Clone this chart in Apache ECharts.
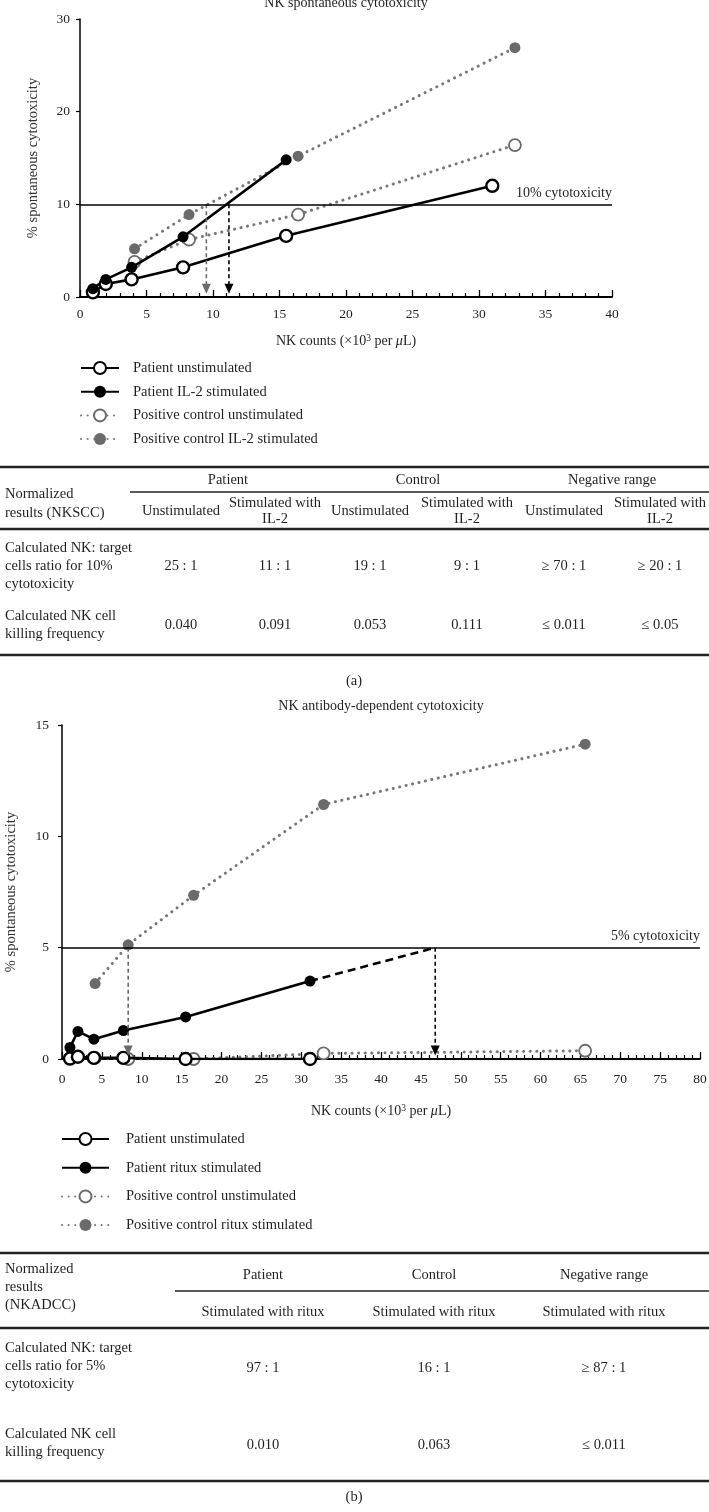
<!DOCTYPE html>
<html><head><meta charset="utf-8">
<script src="https://cdn.jsdelivr.net/npm/echarts@6/dist/echarts.min.js"></script>
<style>html,body{margin:0;padding:0;background:#fff}#c{width:709px;height:1512px}</style>
</head><body><div id="c"></div>
<script>
// ---------- Data: panel (a) NK spontaneous cytotoxicity ----------
const a_patientUnstim = [[0.97,0.5],[1.94,1.4],[3.88,1.9],[7.75,3.2],[15.5,6.6],[31,12.0]];
const a_patientIL2    = [[0.97,0.9],[1.94,1.9],[3.88,3.2],[7.75,6.5],[15.5,14.8]];
const a_controlUnstim = [[4.1,3.8],[8.2,6.2],[16.4,8.9],[32.7,16.4]];
const a_controlIL2    = [[4.1,5.2],[8.2,8.9],[16.4,15.2],[32.7,26.9]];
const a_threshold = 10;
const a_arrowGray  = [[9.5,10],[9.5,0.9]];
const a_arrowBlack = [[11.2,10],[11.2,0.9]];
const a_names = ['Patient unstimulated','Patient IL-2 stimulated','Positive control unstimulated','Positive control IL-2 stimulated'];

// ---------- Data: panel (b) NK antibody-dependent cytotoxicity ----------
const b_patientUnstim = [[1.0,0.02],[2.0,0.1],[4.0,0.05],[7.7,0.05],[15.5,0.0],[31.1,0.0]];
const b_patientRitux  = [[1.0,0.52],[2.0,1.24],[4.0,0.89],[7.7,1.28],[15.5,1.89],[31.1,3.5]];
const b_patientExtrap = [[31.1,3.5],[46.8,5.0]];
const b_controlUnstim = [[4.1,0.05],[8.3,0.0],[16.5,0.0],[32.8,0.25],[65.6,0.37]];
const b_controlRitux  = [[4.15,3.39],[8.3,5.13],[16.5,7.35],[32.8,11.43],[65.6,14.14]];
const b_threshold = 5;
const b_arrowGray  = [[8.3,5.0],[8.3,0.38]];
const b_arrowBlack = [[46.8,5.0],[46.8,0.38]];
const b_names = ['Patient unstimulated','Patient ritux stimulated','Positive control unstimulated','Positive control ritux stimulated'];

// ---------- Tables ----------
const tA_head = 'Normalized\nresults (NKSCC)';
const tA_groups = ['Patient','Control','Negative range'];
const tA_sub = ['Unstimulated','Stimulated with\nIL-2','Unstimulated','Stimulated with\nIL-2','Unstimulated','Stimulated with\nIL-2'];
const tA_rowLabels = ['Calculated NK: target\ncells ratio for 10%\ncytotoxicity','Calculated NK cell\nkilling frequency'];
const tA_ratio = ['25 : 1','11 : 1','19 : 1','9 : 1','\u2265 70 : 1','\u2265 20 : 1'];
const tA_freq  = ['0.040','0.091','0.053','0.111','\u2264 0.011','\u2264 0.05'];

const tB_head = 'Normalized\nresults\n(NKADCC)';
const tB_groups = ['Patient','Control','Negative range'];
const tB_sub = ['Stimulated with ritux','Stimulated with ritux','Stimulated with ritux'];
const tB_rowLabels = ['Calculated NK: target\ncells ratio for 5%\ncytotoxicity','Calculated NK cell\nkilling frequency'];
const tB_ratio = ['97 : 1','16 : 1','\u2265 87 : 1'];
const tB_freq  = ['0.010','0.063','\u2264 0.011'];

// ---------- Styles ----------
const FF = '"Liberation Serif","Times New Roman",serif';
const INK = '#231f20';
const GRAY = '#6a6a6a';
const DOT = '#777';

function xAxisCfg(gi, max, margin, gap){
  return {
    type:'value', gridIndex:gi, min:0, max:max, interval:5,
    name:'NK counts (\u00d710{sup|3} per {it|\u03bc}L)', nameLocation:'middle', nameGap:gap,
    nameTextStyle:{fontFamily:FF, fontSize:14, color:INK,
      rich:{sup:{fontFamily:FF,fontSize:9.5,color:INK,verticalAlign:'top',lineHeight:16},
            it:{fontFamily:FF,fontSize:14,fontStyle:'italic',color:INK}}},
    axisLine:{show:true, onZero:false, lineStyle:{color:'#000', width:2}},
    axisTick:{show:true, inside:true, length:7, lineStyle:{color:'#000', width:1.3}},
    minorTick:{show:true, splitNumber:5, length:4, lineStyle:{color:'#000', width:1.2}},
    axisLabel:{fontFamily:FF, fontSize:13.5, color:INK, margin:margin},
    splitLine:{show:false}, minorSplitLine:{show:false}
  };
}
function yAxisCfg(gi, max, interval, margin, gap){
  return {
    type:'value', gridIndex:gi, min:0, max:max, interval:interval,
    name:'% spontaneous cytotoxicity', nameLocation:'middle', nameGap:gap,
    nameTextStyle:{fontFamily:FF, fontSize:14.5, color:'#333'},
    axisLine:{show:true, lineStyle:{color:'#000', width:1.5}},
    axisTick:{show:true, inside:false, length:4, lineStyle:{color:'#000', width:1.2}},
    axisLabel:{fontFamily:FF, fontSize:13.5, color:INK, margin:margin},
    splitLine:{show:false}
  };
}
function seriesCfg(name, gi, data, kind, z, extra){
  const solid = kind === 'patientOpen' || kind === 'patientFilled';
  const open = kind === 'patientOpen' || kind === 'controlOpen';
  const col = solid ? '#000' : GRAY;
  const s = {
    type:'line', name:name, xAxisIndex:gi, yAxisIndex:gi, data:data, z:z,
    symbol:'circle', symbolSize: open ? 12 : 11, showSymbol:true, showAllSymbol:true,
    lineStyle: solid ? {color:'#000', width:2.6, type:'solid'} : {color:DOT, width:3, type:[0.1,6.5], cap:'round'},
    itemStyle: open ? {color:'#fff', borderColor:col, borderWidth: solid ? 2.4 : 1.8} : {color:col, borderColor:col, borderWidth:0},
    emphasis:{disabled:true}, silent:true
  };
  return Object.assign(s, extra||{});
}
function arrowCfg(gi, pts, color){
  return {
    type:'line', xAxisIndex:gi, yAxisIndex:gi, z:4, silent:true,
    data:[{value:pts[0], symbol:'none'},{value:pts[1], symbol:'triangle', symbolRotate:180, symbolSize:[9,10]}],
    showSymbol:true, showAllSymbol:true,
    lineStyle:{color:color, width:1.6, type:[4,3]},
    itemStyle:{color:color, borderWidth:0}, emphasis:{disabled:true}
  };
}
function thresholdMark(val, text){
  return {silent:true, symbol:'none', animation:false,
    data:[{yAxis:val}],
    lineStyle:{color:'#000', width:1.5, type:'solid'},
    label:{show:true, position:'insideEndTop', formatter:text, fontFamily:FF, fontSize:14, color:INK, distance:[0,4]},
    emphasis:{disabled:true}};
}

// ---------- Table graphics ----------
function txt(t, x, y, align, lh){
  return {type:'text', x:x, y:y, silent:true,
    style:{text:t, font:'14.5px '+FF, fill:INK, align:align||'center', verticalAlign:'middle', lineHeight:lh||18}};
}
function hline(x1, x2, y, w){
  return {type:'line', silent:true, shape:{x1:x1,y1:y,x2:x2,y2:y}, style:{stroke:'#222', lineWidth:w}};
}
const g = [];
// Table A
const tA_cols = [181,275,370,467,564,660];
const tA_gcols = [228,418,612];
g.push(hline(0,709,467,2.6), hline(130,709,492,1.6), hline(0,709,529,2.6), hline(0,709,655,2.6));
g.push(txt(tA_head,5,504,'left',19));
tA_groups.forEach((s,i)=>g.push(txt(s,tA_gcols[i],480)));
tA_sub.forEach((s,i)=>g.push(txt(s,tA_cols[i],511,'center',16)));
g.push(txt(tA_rowLabels[0],5,566,'left',18), txt(tA_rowLabels[1],5,625,'left',18));
tA_ratio.forEach((s,i)=>g.push(txt(s,tA_cols[i],566)));
tA_freq.forEach((s,i)=>g.push(txt(s,tA_cols[i],625)));
g.push(txt('(a)',354,681));
// Table B
const tB_cols = [263,434,604];
g.push(hline(0,709,1253,2.6), hline(175,709,1291,1.6), hline(0,709,1328,2.6), hline(0,709,1481,2.6));
g.push(txt(tB_head,5,1287,'left',18));
tB_groups.forEach((s,i)=>g.push(txt(s,tB_cols[i],1275)));
tB_sub.forEach((s,i)=>g.push(txt(s,tB_cols[i],1312)));
g.push(txt(tB_rowLabels[0],5,1366,'left',18), txt(tB_rowLabels[1],5,1443,'left',18));
tB_ratio.forEach((s,i)=>g.push(txt(s,tB_cols[i],1368)));
tB_freq.forEach((s,i)=>g.push(txt(s,tB_cols[i],1445)));
g.push(txt('(b)',354,1497));

const legendText = {fontFamily:FF, fontSize:14.5, color:INK};

const option = {
  animation:false,
  backgroundColor:'#fff',
  title:[
    {text:'NK spontaneous cytotoxicity', left:346, top:-4, textAlign:'center', padding:0,
     textStyle:{fontFamily:FF, fontSize:14, fontWeight:'normal', color:INK}},
    {text:'NK antibody-dependent cytotoxicity', left:381, top:699, textAlign:'center', padding:0,
     textStyle:{fontFamily:FF, fontSize:14, fontWeight:'normal', color:INK}}
  ],
  grid:[
    {left:80, top:19, width:532, height:278, outerBoundsMode:'none', containLabel:false},
    {left:62, top:725, width:638, height:334, outerBoundsMode:'none', containLabel:false}
  ],
  xAxis:[xAxisCfg(0,40,10,36), xAxisCfg(1,80,13,44)],
  yAxis:[yAxisCfg(0,30,10,10,39), yAxisCfg(1,15,5,13,43)],
  legend:[
    {orient:'vertical', left:80, top:360.5, padding:0, itemWidth:38, itemHeight:15, itemGap:8.7,
     selectedMode:false, data:a_names, textStyle:Object.assign({padding:[0,0,0,9]},legendText)},
    {orient:'vertical', left:61, top:1131.5, padding:0, itemWidth:47, itemHeight:15, itemGap:13.7,
     selectedMode:false, data:b_names, textStyle:Object.assign({padding:[0,0,0,12]},legendText)}
  ],
  series:[
    seriesCfg(a_names[3],0,a_controlIL2,'controlFilled',2),
    seriesCfg(a_names[2],0,a_controlUnstim,'controlOpen',2),
    seriesCfg(a_names[0],0,a_patientUnstim,'patientOpen',3,{markLine:thresholdMark(a_threshold,'10% cytotoxicity')}),
    seriesCfg(a_names[1],0,a_patientIL2,'patientFilled',3),
    arrowCfg(0,a_arrowGray,GRAY),
    arrowCfg(0,a_arrowBlack,'#000'),

    seriesCfg(b_names[3],1,b_controlRitux,'controlFilled',2),
    seriesCfg(b_names[2],1,b_controlUnstim,'controlOpen',2),
    seriesCfg(b_names[0],1,b_patientUnstim,'patientOpen',3,{markLine:thresholdMark(b_threshold,'5% cytotoxicity')}),
    seriesCfg(b_names[1],1,b_patientRitux,'patientFilled',3),
    {type:'line', xAxisIndex:1, yAxisIndex:1, data:b_patientExtrap, symbol:'none', z:3, silent:true,
     lineStyle:{color:'#000', width:2.6, type:[8,5]}, emphasis:{disabled:true}},
    arrowCfg(1,b_arrowGray,GRAY),
    arrowCfg(1,b_arrowBlack,'#000')
  ],
  graphic:g
};
const chart = echarts.init(document.getElementById('c'), null, {renderer:'canvas', width:709, height:1512});
chart.setOption(option);
</script>
</body></html>
